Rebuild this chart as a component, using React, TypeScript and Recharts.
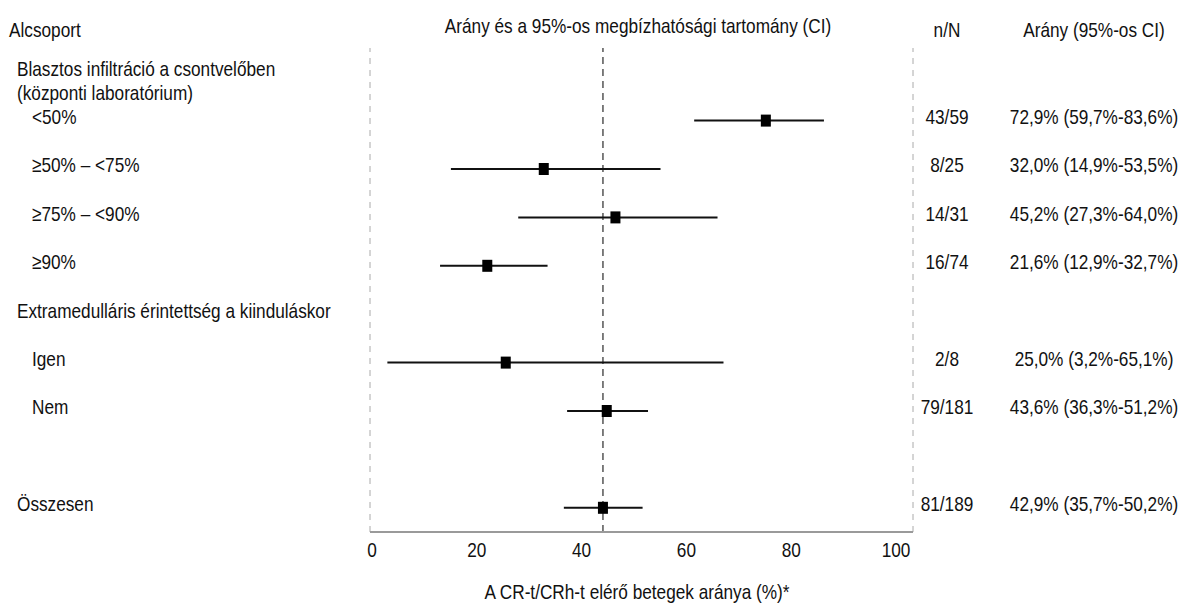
import { ScatterChart, Scatter, XAxis, YAxis, ErrorBar, ReferenceLine } from 'recharts';

// alcsoportok (sorok) es az ertekek
const subgroups = ['<50%', '≥50% – <75%', '≥75% – <90%', '≥90%', 'Igen', 'Nem', 'Összesen'];
const rowSlots = [0, 1, 2, 3, 5, 6, 8];
const nN = ['43/59', '8/25', '14/31', '16/74', '2/8', '79/181', '81/189'];
const ratio = [72.9, 32.0, 45.2, 21.6, 25.0, 43.6, 42.9];
const ciLow = [59.7, 14.9, 27.3, 12.9, 3.2, 36.3, 35.7];
const ciHigh = [83.6, 53.5, 64.0, 32.7, 65.1, 51.2, 50.2];

// bal oldali szovegek
const leftLabels = [
  'Blasztos infiltráció a csontvelőben',
  '(központi laboratórium)',
  ...subgroups.slice(0, 4),
  'Extramedulláris érintettség a kiinduláskor',
  ...subgroups.slice(4),
];
const leftRows = [-1, -0.5, 0, 1, 2, 3, 4, 5, 6, 8];
const leftIndent = [0, 0, 1, 1, 1, 1, 0, 1, 1, 0];

const xTicks = [0, 20, 40, 60, 80, 100];

// nincs Arial Narrow, ezert a Liberation Sans-t nyomjuk ossze vizszintesen
const FONT = "'Liberation Sans', Arial, sans-serif";
const FS = 21;
const SQUEEZE = 0.82;

const fmt = (v: number) => v.toFixed(1).replace('.', ',') + '%';

const data = ratio.map((r, i) => ({
  name: subgroups[i],
  ratio: r,
  row: rowSlots[i],
  err: [r - ciLow[i], ciHigh[i] - r],
}));

const NText = ({ x, y, anchor = 'start', dy = '0.35em', children }: any) => (
  <text
    transform={`translate(${x},${y}) scale(${SQUEEZE},1)`}
    dy={dy}
    textAnchor={anchor}
    fill="#111"
    fontSize={FS}
    fontFamily={FONT}
  >
    {children}
  </text>
);

const RowTick = (props: any) => {
  const v = props.payload.value;
  const idx = leftRows.indexOf(v);
  const i = rowSlots.indexOf(v);
  const y = props.y - 4;
  return (
    <g>
      {idx >= 0 && <NText x={leftIndent[idx] ? 32 : 17} y={y}>{leftLabels[idx]}</NText>}
      {i >= 0 && <NText x={947} y={y} anchor="middle">{nN[i]}</NText>}
      {i >= 0 && (
        <NText x={1094} y={y} anchor="middle">
          {`${fmt(ratio[i])} (${fmt(ciLow[i])}-${fmt(ciHigh[i])})`}
        </NText>
      )}
    </g>
  );
};

// a tengelyfeliratok az eredetin kicsit balra csusznak
const XTick = (props: any) => {
  const v = props.payload.value;
  return (
    <NText x={props.x + 2 - v * 0.19} y={props.y} anchor="middle" dy="0.71em">
      {v}
    </NText>
  );
};

const Square = (props: any) => (
  <rect x={props.cx - 5} y={props.cy - 6} width={10} height={12} fill="#000" />
);

export default function App() {
  return (
    <div style={{ position: 'absolute', left: 0, top: 0, width: 1182, height: 605, background: '#fff' }}>
      <svg width={1182} height={605} style={{ position: 'absolute', left: 0, top: 0, pointerEvents: 'none' }}>
        <NText x={9} y={30}>Alcsoport</NText>
        <NText x={638} y={26} anchor="middle">Arány és a 95%-os megbízhatósági tartomány (CI)</NText>
        <NText x={947} y={30} anchor="middle">n/N</NText>
        <NText x={1094} y={30} anchor="middle">Arány (95%-os CI)</NText>
        <NText x={637} y={592} anchor="middle">A CR-t/CRh-t elérő betegek aránya (%)*</NText>
      </svg>
      <ScatterChart width={1182} height={605} margin={{ top: 48, right: 269, bottom: 0, left: 0 }}>
        <XAxis
          type="number"
          dataKey="ratio"
          domain={[0, 100]}
          ticks={xTicks}
          axisLine={{ stroke: '#9a9a9a', strokeWidth: 2 }}
          tickLine={false}
          tickSize={0}
          tickMargin={10}
          tick={<XTick />}
          height={73}
        />
        <YAxis
          type="number"
          dataKey="row"
          domain={[-1.5, 8.5]}
          reversed
          ticks={leftRows}
          width={370}
          axisLine={false}
          tickLine={false}
          tick={<RowTick />}
          interval={0}
        />
        <ReferenceLine x={0} stroke="#aaa" strokeDasharray="6 6" />
        <ReferenceLine x={100} stroke="#aaa" strokeDasharray="6 6" />
        <ReferenceLine x={ratio[6]} stroke="#555" strokeWidth={1.5} strokeDasharray="7 5" />
        <Scatter data={data} shape={<Square />} isAnimationActive={false}>
          <ErrorBar dataKey="err" direction="x" width={0} stroke="#111" strokeWidth={2} />
        </Scatter>
      </ScatterChart>
    </div>
  );
}
